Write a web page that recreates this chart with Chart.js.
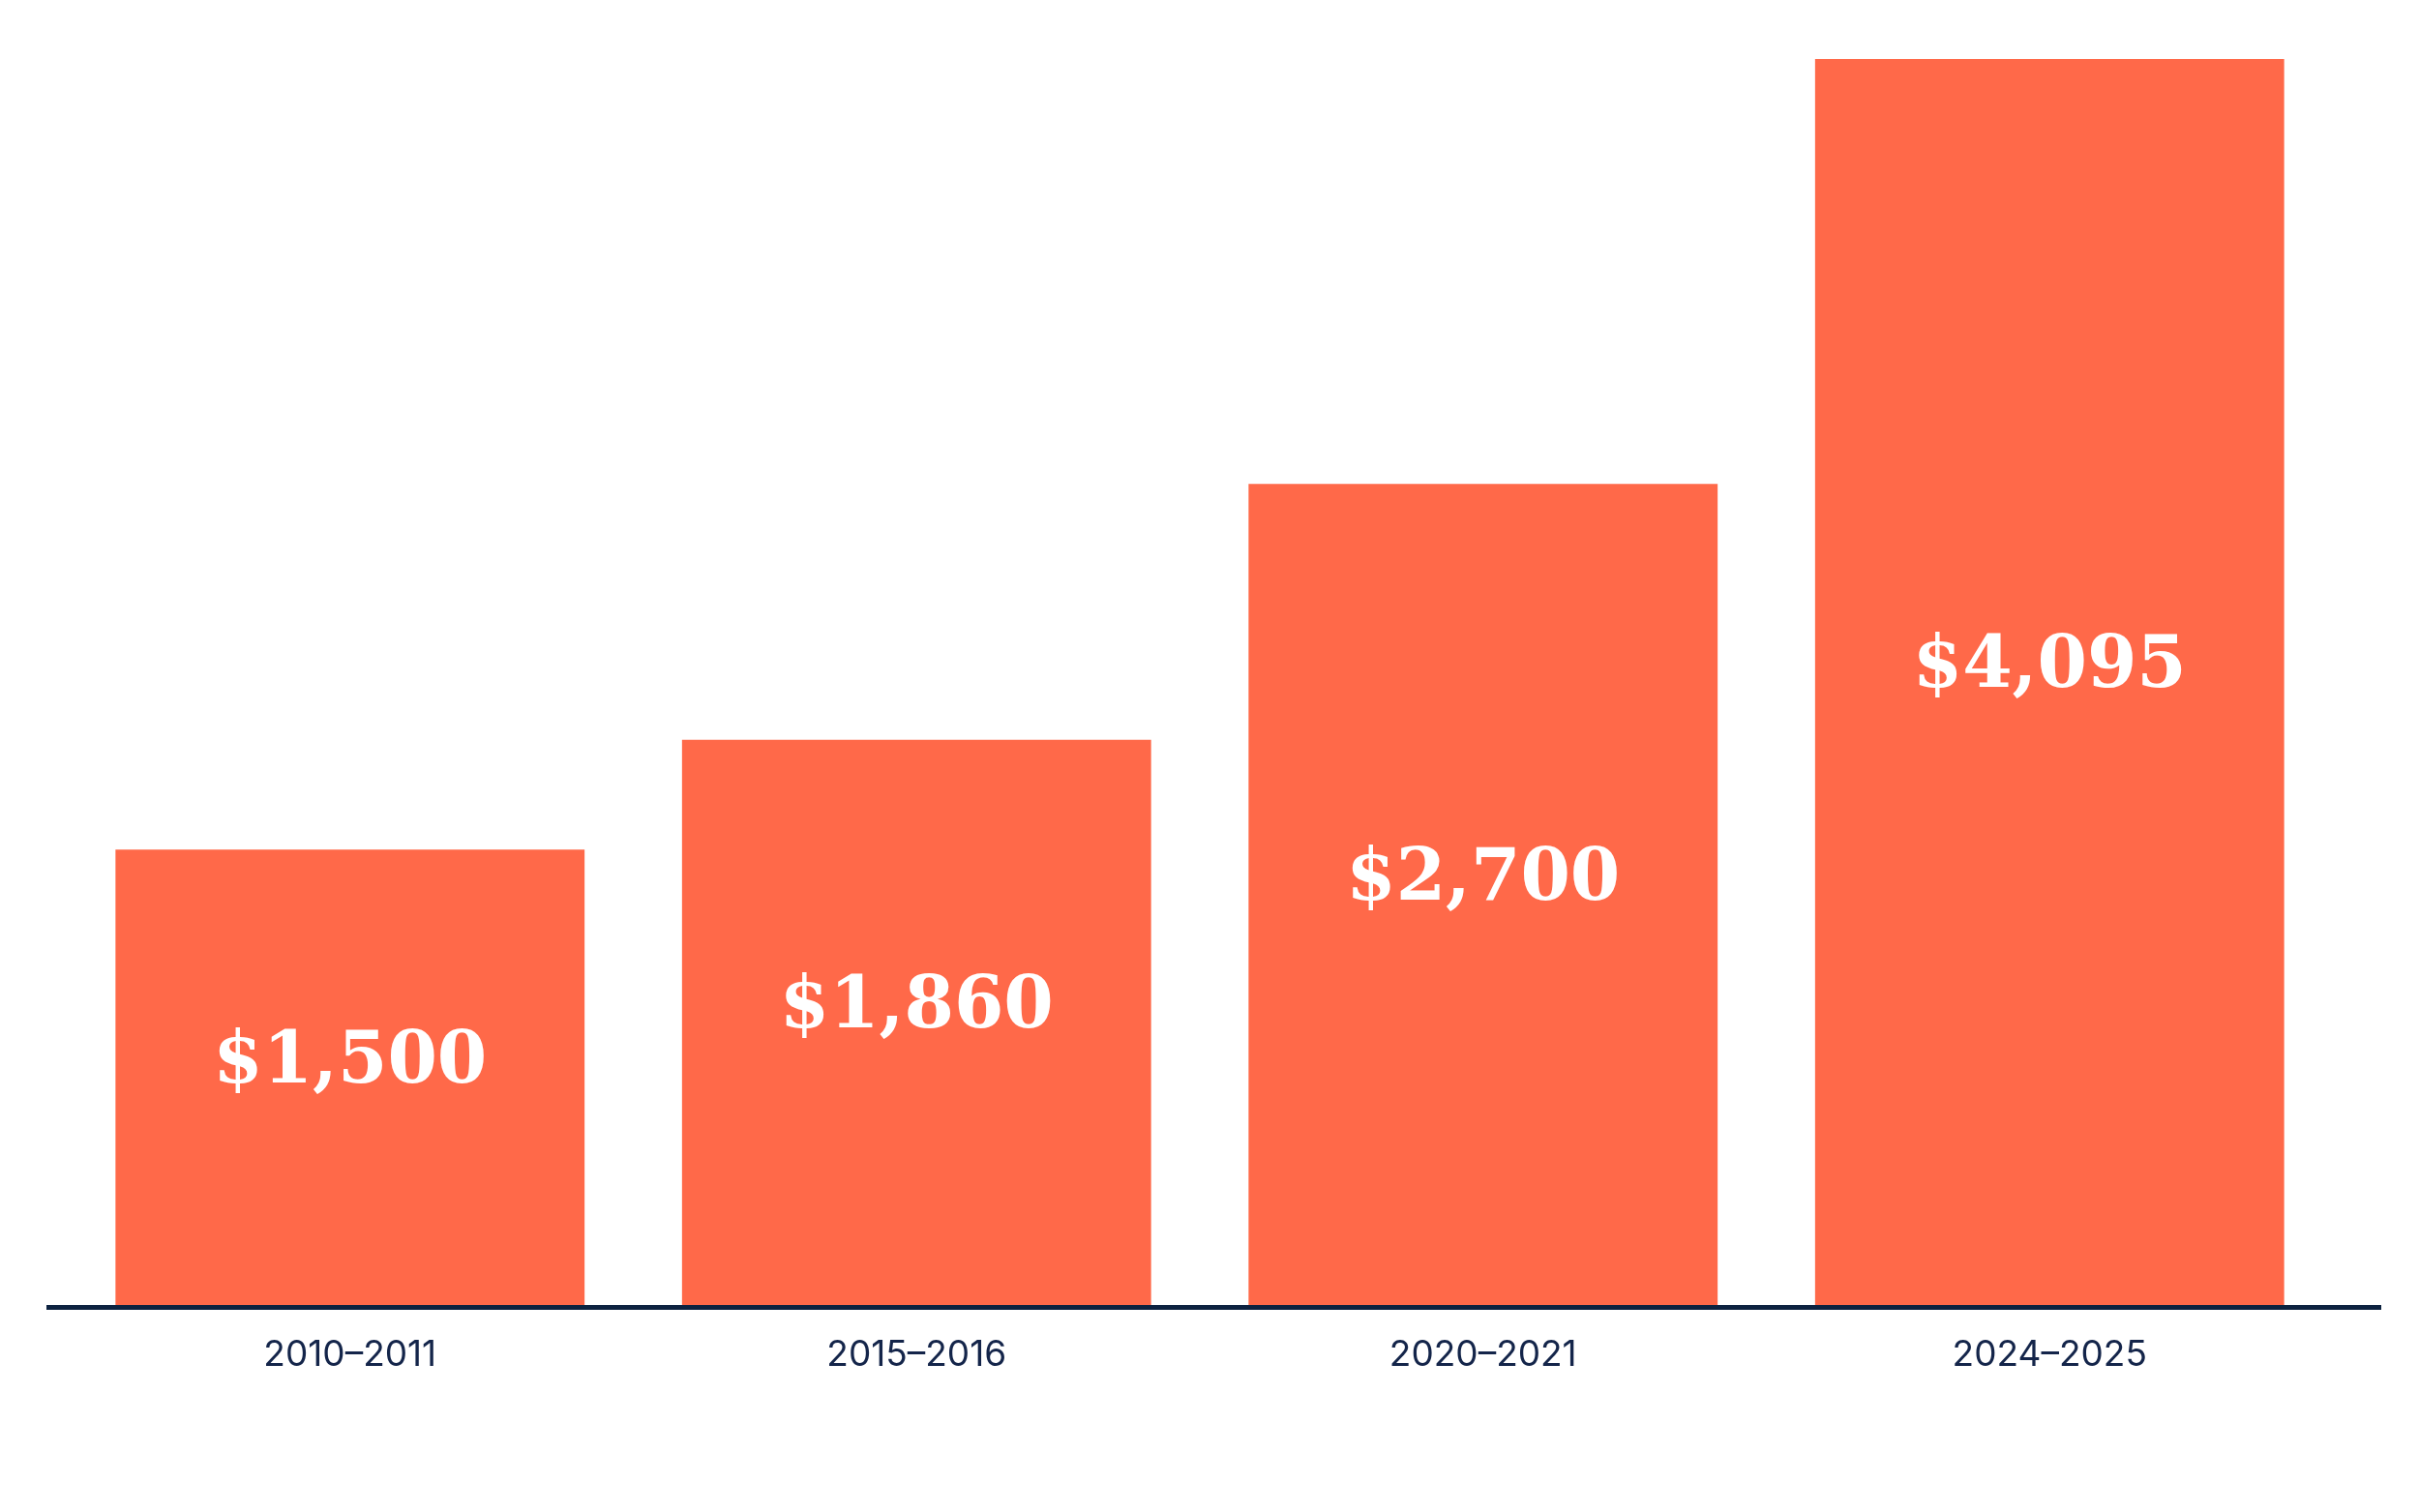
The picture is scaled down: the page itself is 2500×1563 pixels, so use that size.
<!DOCTYPE html>
<html><head><meta charset="utf-8">
<script src="https://cdn.jsdelivr.net/npm/chart.js@4"></script>
<style>html,body{margin:0;padding:0;background:#fff}#w{width:2500px;height:1563px}</style>
</head><body><div id="w"><canvas id="c"></canvas></div>
<script>
const categories = ["2010–2011","2015–2016","2020–2021","2024–2025"];
const values = [1500,1860,2700,4095];
const valueLabels = ["$1,500","$1,860","$2,700","$4,095"];

const plug = {
  id:'extra',
  afterDatasetsDraw(chart){
    const ctx=chart.ctx, meta=chart.getDatasetMeta(0), a=chart.chartArea;
    ctx.save();
    ctx.strokeStyle='#0d2240'; ctx.lineWidth=5;
    ctx.beginPath(); ctx.moveTo(48,a.bottom+1); ctx.lineTo(2461,a.bottom+1); ctx.stroke();
    ctx.fillStyle='#fff'; ctx.font='bold 74px "DejaVu Serif", serif';
    ctx.textAlign='center'; ctx.textBaseline='middle';
    meta.data.forEach((b,i)=>{ ctx.fillText(valueLabels[i], b.x, (b.y+b.base)/2 - 15); });
    ctx.restore();
  }
};
new Chart(document.getElementById('c'),{
  type:'bar',
  data:{labels:categories,datasets:[{data:values,backgroundColor:'#ff6949',categoryPercentage:1,barPercentage:0.828}]},
  options:{responsive:true,maintainAspectRatio:false,animation:false,
    layout:{padding:{left:69,right:89,top:61,bottom:120}},
    plugins:{legend:{display:false},tooltip:{enabled:false}},
    scales:{
      y:{display:false,min:0,max:4095},
      x:{grid:{display:false},border:{display:false},
         ticks:{color:'#14254a',font:{family:'Inter, "Noto Sans", sans-serif',size:37},padding:20}}
    }},
  plugins:[plug]
});
</script></body></html>
